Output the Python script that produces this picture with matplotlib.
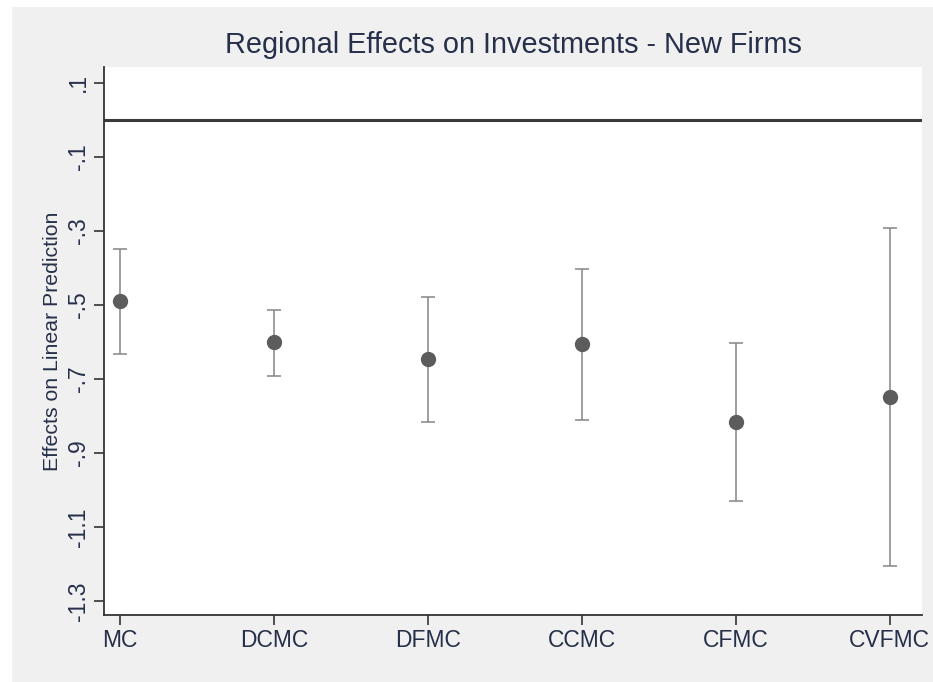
import matplotlib
matplotlib.use("Agg")
import matplotlib.pyplot as plt
from matplotlib.patches import Rectangle

regions = ['MC', 'DCMC', 'DFMC', 'CCMC', 'CFMC', 'CVFMC']
effect = [-0.489, -0.600, -0.646, -0.605, -0.816, -0.749]
ci_low = [-0.632, -0.692, -0.816, -0.811, -1.030, -1.205]
ci_high = [-0.349, -0.514, -0.478, -0.403, -0.603, -0.292]
yticks = [0.1, -0.1, -0.3, -0.5, -0.7, -0.9, -1.1, -1.3]
ytick_labels = ['.1', '-.1', '-.3', '-.5', '-.7', '-.9', '-1.1', '-1.3']

plt.rcParams['font.family'] = ['Liberation Sans', 'DejaVu Sans']

W, H = 933, 682
fig = plt.figure(figsize=(W / 100, H / 100), dpi=100, facecolor='white')
fig.patches.append(Rectangle((12 / W, 0), 1 - 12 / W, 1 - 7 / H, transform=fig.transFigure,
                             facecolor='#f0f0f0', edgecolor='none', zorder=-5))

ax = fig.add_axes([104 / W, 1 - 615 / H, (922 - 104) / W, (615 - 67) / H])
ax.set_zorder(1)
ax.set_facecolor('white')

txt = '#26304a'
x = list(range(len(regions)))
yerr = [[e - lo for e, lo in zip(effect, ci_low)], [hi - e for e, hi in zip(effect, ci_high)]]
ax.errorbar(x, effect, yerr=yerr, fmt='none', ecolor='#858585', elinewidth=1.1,
            capsize=4.7, capthick=1.1, zorder=2)
ax.plot(x, effect, linestyle=' ', marker='o', markersize=10, color='#5c5c5c', zorder=3)
ax.axhline(0, color='#3a3a3a', linewidth=2.2, zorder=1)

ax.set_xlim(-0.104, 5.21)
ax.set_ylim(-1.338, 0.143)
ax.set_xticks(x)
ax.set_xticklabels(regions, fontsize=16.5, color=txt)
ax.set_yticks(yticks)
ax.set_yticklabels(ytick_labels, fontsize=16.5, color=txt, rotation=90, va='center')
ax.tick_params(axis='both', length=7, width=1.2, color='#333333', pad=3)

for side in ['top', 'right']:
    ax.spines[side].set_visible(False)
for side in ['left', 'bottom']:
    ax.spines[side].set_color('#333333')
    ax.spines[side].set_linewidth(1.3)

ax.set_ylabel('Effects on Linear Prediction', fontsize=15.3, color=txt, labelpad=4)
ax.set_title('Regional Effects on Investments - New Firms', fontsize=20.8, color=txt, pad=10)

fig.savefig('out.png', dpi=100, facecolor=fig.get_facecolor())
